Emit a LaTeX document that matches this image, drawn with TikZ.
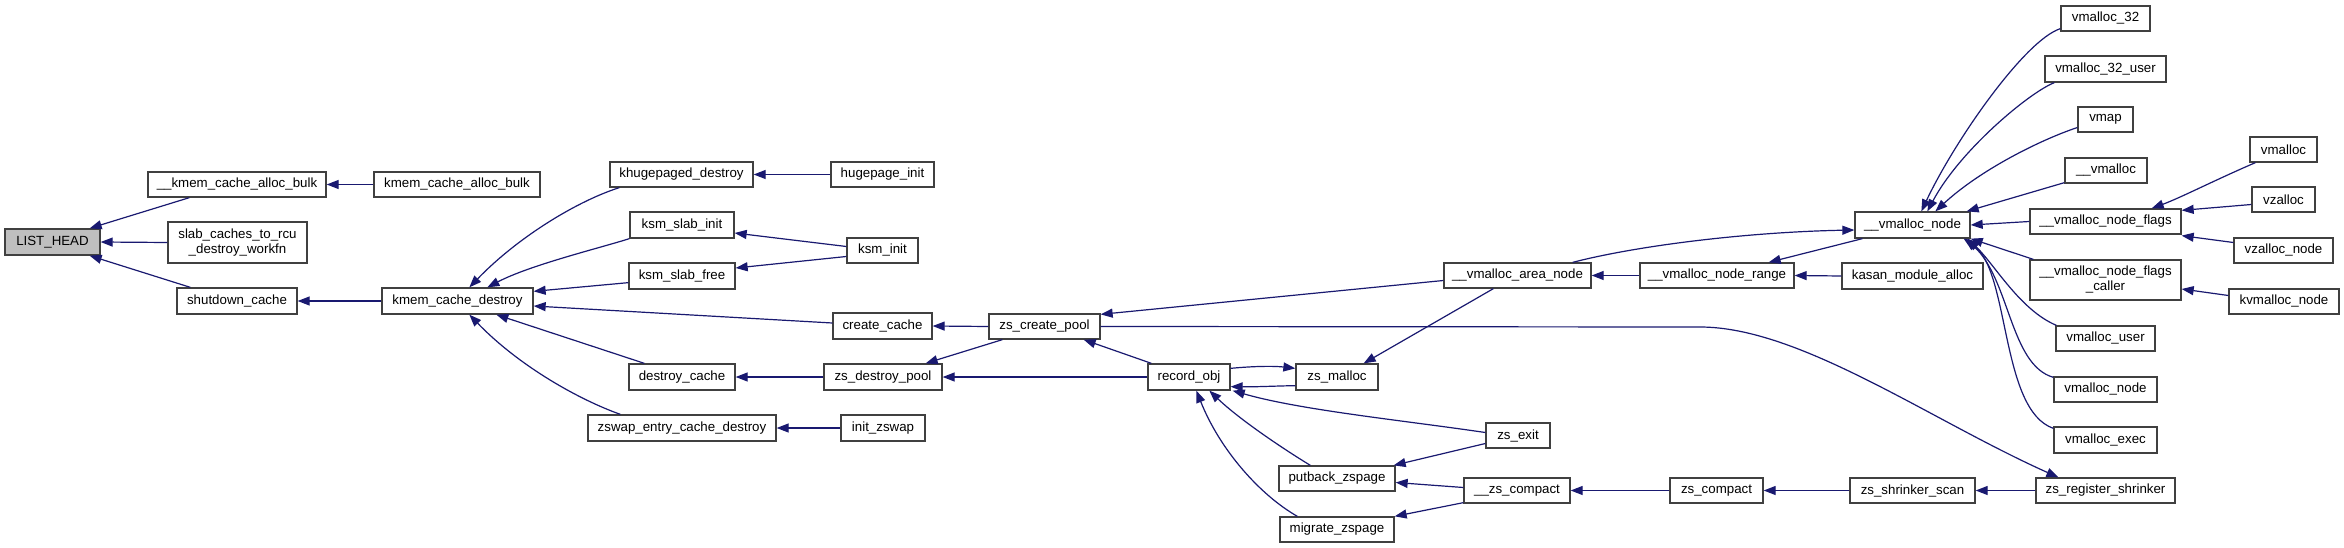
\documentclass[tikz,border=0pt]{standalone}
\usepackage{fontspec}
\setmainfont{Liberation Sans}
\usetikzlibrary{arrows.meta,calc}
\definecolor{midnight}{HTML}{191970}
\definecolor{boxgray}{HTML}{BFBFBF}
\definecolor{boxline}{HTML}{404040}
\tikzset{
  box/.style={draw=boxline, line width=1.3pt, fill=white, inner sep=0pt, align=center,
    font=\fontsize{13.3}{15}\selectfont},
  arr/.style={draw=midnight, line width=1.2pt, -{Triangle[length=12pt,width=9pt]}}
}
\newcommand\gnode[7][]{%
  \pgfmathsetmacro\gnw{#5-#3}\pgfmathsetmacro\gnh{#6-#4}%
  \node[box,#1,minimum width=\gnw pt,minimum height=\gnh pt] (#2) at ({(#3+#5)/2},{(#4+#6)/2}) {#7};}
\begin{document}
\begin{tikzpicture}[x=1pt,y=-1pt]
\fill[white] (0,0) rectangle (2344,548);
\useasboundingbox (0,0) rectangle (2344,548);
% nodes
\gnode[fill=boxgray]{lh}{5}{229}{100}{255}{LIST\_HEAD}
\gnode{kcab1}{148}{172}{326}{197}{\_\_kmem\_cache\_alloc\_bulk}
\gnode{kcab}{374}{172}{540}{197}{kmem\_cache\_alloc\_bulk}
\gnode{slab}{168}{222}{307}{263}{slab\_caches\_to\_rcu\\\_destroy\_workfn}
\gnode{shut}{177}{288}{297}{314}{shutdown\_cache}
\gnode{kcd}{382}{288}{533}{314}{kmem\_cache\_destroy}
\gnode{khd}{610}{162}{753}{187}{khugepaged\_destroy}
\gnode{hpi}{831}{162}{934}{187}{hugepage\_init}
\gnode{ksi}{630}{212}{734}{238}{ksm\_slab\_init}
\gnode{ksmi}{847}{238}{918}{263}{ksm\_init}
\gnode{ksf}{629}{263}{735}{289}{ksm\_slab\_free}
\gnode{cc}{833}{313}{932}{339}{create\_cache}
\gnode{dc}{629}{364}{735}{390}{destroy\_cache}
\gnode{zdp}{824}{364}{942}{390}{zs\_destroy\_pool}
\gnode{zecd}{588}{415}{776}{441}{zswap\_entry\_cache\_destroy}
\gnode{iz}{841}{415}{925}{441}{init\_zswap}
\gnode{zcp}{989}{314}{1100}{339}{zs\_create\_pool}
\gnode{ro}{1148}{364}{1230}{390}{record\_obj}
\gnode{zm}{1296}{364}{1378}{390}{zs\_malloc}
\gnode{van}{1444}{263}{1591}{288}{\_\_vmalloc\_area\_node}
\gnode{vnr}{1640}{263}{1794}{288}{\_\_vmalloc\_node\_range}
\gnode{kma}{1842}{263}{1983}{289}{kasan\_module\_alloc}
\gnode{vn}{1855}{212}{1970}{238}{\_\_vmalloc\_node}
\gnode{zex}{1486}{423}{1550}{448}{zs\_exit}
\gnode{pz}{1279}{466}{1395}{491}{putback\_zspage}
\gnode{zsc}{1464}{478}{1570}{503}{\_\_zs\_compact}
\gnode{zc}{1670}{478}{1763}{503}{zs\_compact}
\gnode{zss}{1850}{478}{1975}{503}{zs\_shrinker\_scan}
\gnode{mz}{1280}{517}{1394}{542}{migrate\_zspage}
\gnode{v32}{2061}{6}{2150}{31}{vmalloc\_32}
\gnode{v32u}{2045}{56}{2166}{82}{vmalloc\_32\_user}
\gnode{vmap}{2078}{107}{2133}{132}{vmap}
\gnode{uvm}{2065}{158}{2147}{183}{\_\_vmalloc}
\gnode{vnf}{2030}{209}{2181}{234}{\_\_vmalloc\_node\_flags}
\gnode{vm}{2250}{137}{2317}{162}{vmalloc}
\gnode{vz}{2252}{187}{2315}{212}{vzalloc}
\gnode{vzn}{2234}{238}{2333}{263}{vzalloc\_node}
\gnode{vnfc}{2030}{260}{2181}{300}{\_\_vmalloc\_node\_flags\\\_caller}
\gnode{kvn}{2229}{289}{2339}{314}{kvmalloc\_node}
\gnode{vu}{2056}{326}{2155}{351}{vmalloc\_user}
\gnode{vnode}{2054}{377}{2157}{402}{vmalloc\_node}
\gnode{vex}{2054}{427}{2157}{453}{vmalloc\_exec}
\gnode{zrs}{2036}{478}{2175}{503}{zs\_register\_shrinker}
% edges
\draw[arr] ($(kcab1.south west)+(42,0)$) -- ($(lh.north east)+(-11,0)$);
\draw[arr] (slab.west) -- (lh.east);
\draw[arr] ($(shut.north west)+(14,0)$) -- ($(lh.south east)+(-11,0)$);
\draw[arr] (kcab.west) -- (kcab1.east);
\draw[arr] (kcd.west) -- (shut.east);
\draw[arr] ($(khd.south west)+(10,0)$) .. controls (580,200) and (520,235) .. ($(kcd.north west)+(88,0)$);
\draw[arr] (ksi.south west) .. controls (600,248) and (530,265) .. ($(kcd.north west)+(106,0)$);
\draw[arr] ($(ksf.south west)+(0,-7)$) -- ($(kcd.north east)+(0,4)$);
\draw[arr] ($(cc.west)+(0,-3)$) -- ($(kcd.east)+(0,5)$);
\draw[arr] ($(dc.north west)+(16,0)$) -- ($(kcd.south west)+(115,0)$);
\draw[arr] ($(zecd.north west)+(33,0)$) .. controls (580,400) and (520,367) .. ($(kcd.south west)+(88,0)$);
\draw[arr] (hpi.west) -- (khd.east);
\draw[arr] ($(ksmi.west)+(0,-4)$) -- ($(ksi.east)+(0,8)$);
\draw[arr] ($(ksmi.west)+(0,6)$) -- ($(ksf.east)+(0,-8)$);
\draw[arr] (zcp.west) -- (cc.east);
\draw[arr] (zdp.west) -- (dc.east);
\draw[arr] (iz.west) -- (zecd.east);
\draw[arr] ($(zcp.south west)+(14,0)$) -- ($(zdp.north east)+(-17,0)$);
\draw[arr] ($(ro.north west)+(4,0)$) -- ($(zcp.south east)+(-17,0)$);
\draw[arr] (ro.west) -- (zdp.east);
\draw[arr] ($(van.west)+(0,5)$) -- ($(zcp.north east)+(0,1)$);
\draw[arr] (zcp.east) -- (1700,327) .. controls (1800,327) and (1930,420) .. ($(zrs.north west)+(23,0)$);
\draw[arr] ($(ro.north east)+(0,5)$) .. controls (1255,366) and (1275,366) .. ($(zm.north west)+(0,5)$);
\draw[arr] ($(zm.south west)+(0,-5)$) .. controls (1275,386) and (1255,387) .. ($(ro.south east)+(0,-4)$);
\draw[arr] ($(van.south west)+(50,0)$) -- ($(zm.north east)+(-15,0)$);
\draw[arr] ($(van.north east)+(-19,0)$) .. controls (1640,245) and (1750,232) .. ($(vn.west)+(0,5)$);
\draw[arr] ($(vn.south west)+(8,0)$) -- ($(vnr.north east)+(-26,0)$);
\draw[arr] (vnr.west) -- (van.east);
\draw[arr] (kma.west) -- (vnr.east);
\draw[arr] ($(zex.west)+(0,-3)$) .. controls (1400,420) and (1300,410) .. ($(ro.south east)+(2,0)$);
\draw[arr] ($(zex.west)+(0,8)$) -- ($(pz.north east)+(-2,0)$);
\draw[arr] ($(pz.north west)+(32,0)$) .. controls (1285,450) and (1240,420) .. ($(ro.south west)+(62,0)$);
\draw[arr] ($(mz.north west)+(18,0)$) .. controls (1260,495) and (1220,450) .. ($(ro.south west)+(49,0)$);
\draw[arr] ($(zsc.west)+(0,-3)$) -- ($(pz.east)+(0,4)$);
\draw[arr] ($(zsc.south west)+(0,-1)$) -- (mz.north east);
\draw[arr] (zc.west) -- (zsc.east);
\draw[arr] (zss.west) -- (zc.east);
\draw[arr] (zrs.west) -- (zss.east);
\draw[arr] ($(v32.south west)+(0,-3)$) .. controls (2025,40) and (1955,140) .. ($(vn.north west)+(67,0)$);
\draw[arr] ($(v32u.south west)+(10,0)$) .. controls (2030,92) and (1960,150) .. ($(vn.north west)+(73,0)$);
\draw[arr] ($(vmap.west)+(0,8)$) .. controls (2040,140) and (1980,170) .. ($(vn.north west)+(81,0)$);
\draw[arr] ($(uvm.south west)+(0,-1)$) -- ($(vn.north east)+(-4,0)$);
\draw[arr] (vnf.west) -- (vn.east);
\draw[arr] ($(vnfc.north west)+(4,0)$) -- (vn.south east);
\draw[arr] ($(vu.north west)+(1,0)$) .. controls (2020,310) and (1995,265) .. ($(vn.south east)+(-3,0)$);
\draw[arr] ($(vnode.north west)+(0,1)$) .. controls (2010,365) and (2010,280) .. ($(vn.south east)+(-5,0)$);
\draw[arr] ($(vex.north west)+(0,2)$) .. controls (2000,410) and (2010,270) .. ($(vn.south east)+(-7,0)$);
\draw[arr] ($(vm.south west)+(6,0)$) .. controls (2215,180) and (2180,198) .. ($(vnf.north east)+(-30,0)$);
\draw[arr] ($(vz.west)+(0,5)$) -- ($(vnf.north east)+(0,2)$);
\draw[arr] ($(vzn.west)+(0,-8)$) -- ($(vnf.south east)+(0,1)$);
\draw[arr] ($(kvn.west)+(0,-6)$) -- ($(vnfc.east)+(0,9)$);
\end{tikzpicture}
\end{document}
